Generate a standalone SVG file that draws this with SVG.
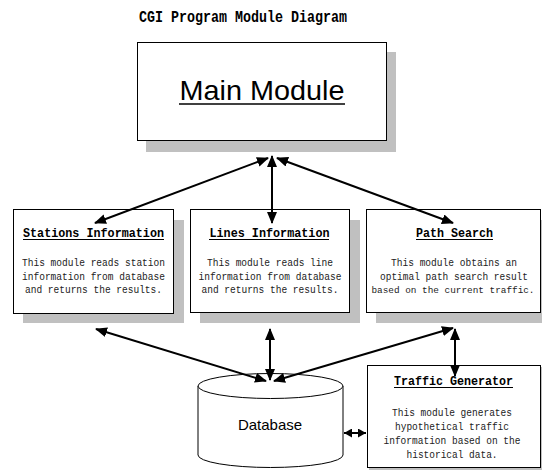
<svg xmlns="http://www.w3.org/2000/svg" width="542" height="470" viewBox="0 0 542 470">
<style>
.bg{fill:#fff}
.box{fill:#fff;stroke:#000;stroke-width:1}
.sh{fill:#c0c0c0}
.ttl{font-family:"Liberation Mono",monospace;font-weight:bold;font-size:17px;fill:#000}
.hd{font-family:"Liberation Mono",monospace;font-weight:bold;font-size:13px;fill:#000;text-anchor:middle}
.bd{font-family:"Liberation Mono",monospace;font-size:10px;fill:#222;text-anchor:middle}
.bd.sm{font-size:9.4px}
.ul{stroke:#000;stroke-width:1}
.con{stroke:#000;stroke-width:2;fill:none;marker-start:url(#ah);marker-end:url(#ah)}
.con2{stroke:#000;stroke-width:2;fill:none;marker-start:url(#ahs);marker-end:url(#ahs)}
</style>
<defs>
<marker id="ah" viewBox="0 0 12 10" refX="11" refY="5" markerWidth="12" markerHeight="10" markerUnits="userSpaceOnUse" orient="auto-start-reverse">
<path d="M0,0 L12,5 L0,10 z" fill="#000"/>
</marker>
<marker id="ahs" viewBox="0 0 8 9" refX="8" refY="4.5" markerWidth="8" markerHeight="9" markerUnits="userSpaceOnUse" orient="auto-start-reverse">
<path d="M0,0 L8,4.5 L0,9 z" fill="#000"/>
</marker>
</defs>
<rect class="bg" width="542" height="470"/>
<text class="ttl" x="139" y="22" textLength="208" lengthAdjust="spacingAndGlyphs">CGI Program Module Diagram</text>

<g id="main">
<rect class="sh" x="146" y="52" width="250" height="100"/>
<rect class="box" x="137.5" y="42.5" width="249" height="98"/>
<text x="262" y="100" font-family="Liberation Sans, Arial, sans-serif" font-size="28" text-anchor="middle" textLength="165" lengthAdjust="spacingAndGlyphs">Main Module</text>
<line x1="179" y1="104" x2="345" y2="104" stroke="#000" stroke-width="1.6"/>
</g>

<g id="stations">
<rect class="sh" x="23" y="220" width="161" height="103"/>
<rect class="box" x="13.5" y="209.5" width="160" height="104"/>
<text class="hd" x="93.5" y="237" textLength="141" lengthAdjust="spacingAndGlyphs">Stations Information</text>
<line class="ul" x1="23" y1="239.5" x2="164" y2="239.5"/>
<text class="bd" x="93.5" y="266" textLength="143" lengthAdjust="spacingAndGlyphs">This module reads station</text>
<text class="bd" x="93.5" y="280" textLength="143" lengthAdjust="spacingAndGlyphs">information from database</text>
<text class="bd" x="93.5" y="293" textLength="137" lengthAdjust="spacingAndGlyphs">and returns the results.</text>
</g>

<g id="lines">
<rect class="sh" x="200" y="220" width="160" height="103"/>
<rect class="box" x="190.5" y="209.5" width="159" height="103"/>
<text class="hd" x="269.5" y="237" textLength="120" lengthAdjust="spacingAndGlyphs">Lines Information</text>
<line class="ul" x1="209" y1="239.5" x2="329" y2="239.5"/>
<text class="bd" x="270" y="266" textLength="126" lengthAdjust="spacingAndGlyphs">This module reads line</text>
<text class="bd" x="270" y="280" textLength="143" lengthAdjust="spacingAndGlyphs">information from database</text>
<text class="bd" x="270" y="293" textLength="137" lengthAdjust="spacingAndGlyphs">and returns the results.</text>
</g>

<g id="path">
<rect class="sh" x="376" y="220" width="166" height="103"/>
<rect class="box" x="366.5" y="209.5" width="174" height="103"/>
<text class="hd" x="454.5" y="237" textLength="77" lengthAdjust="spacingAndGlyphs">Path Search</text>
<line class="ul" x1="416" y1="239.5" x2="493" y2="239.5"/>
<text class="bd" x="454" y="266" textLength="126" lengthAdjust="spacingAndGlyphs">This module obtains an</text>
<text class="bd" x="454" y="280" textLength="148" lengthAdjust="spacingAndGlyphs">optimal path search result</text>
<text class="bd sm" x="453" y="293" textLength="163" lengthAdjust="spacingAndGlyphs">based on the current traffic.</text>
</g>

<g id="database">
<path d="M198,386 V455 A72.5,12.5 0 0 0 343,455 V386" fill="#fff" stroke="#000" stroke-width="1"/>
<ellipse cx="270.5" cy="386" rx="72.5" ry="12.5" fill="#fff" stroke="#000" stroke-width="1"/>
<text x="270" y="430" font-family="Liberation Sans, Arial, sans-serif" font-size="15" text-anchor="middle">Database</text>
</g>

<g id="traffic">
<rect class="sh" x="369" y="367" width="173" height="103"/>
<rect class="box" x="367.5" y="365.5" width="173" height="102"/>
<text class="hd" x="453.5" y="385" textLength="119" lengthAdjust="spacingAndGlyphs">Traffic Generator</text>
<line class="ul" x1="394" y1="387.5" x2="513" y2="387.5"/>
<text class="bd" x="452" y="416" textLength="120" lengthAdjust="spacingAndGlyphs">This module generates</text>
<text class="bd" x="452" y="430" textLength="114" lengthAdjust="spacingAndGlyphs">hypothetical traffic</text>
<text class="bd" x="452" y="444" textLength="137" lengthAdjust="spacingAndGlyphs">information based on the</text>
<text class="bd" x="452" y="458" textLength="91" lengthAdjust="spacingAndGlyphs">historical data.</text>
</g>

<g id="connectors">
<line class="con" x1="268" y1="158" x2="95" y2="223"/>
<line class="con" x1="272" y1="156" x2="272" y2="223"/>
<line class="con" x1="277" y1="158" x2="453" y2="223"/>
<line class="con" x1="96" y1="329" x2="266" y2="381"/>
<line class="con" x1="270" y1="329" x2="270" y2="380"/>
<line class="con" x1="453" y1="328" x2="274" y2="381"/>
<line class="con" x1="455" y1="329" x2="455" y2="376"/>
<line class="con2" x1="344" y1="433" x2="366" y2="433"/>
</g>
</svg>
